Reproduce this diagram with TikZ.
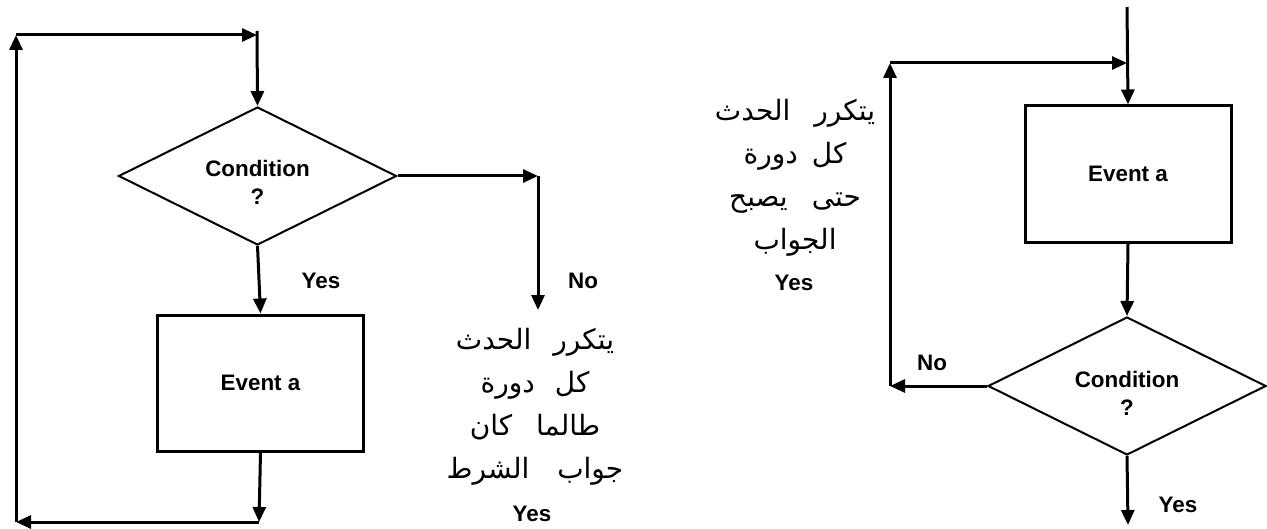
\documentclass[tikz,border=0pt]{standalone}
\usepackage{fontspec}
\setmainfont{Liberation Sans}
\newfontfamily\arabicfont[Script=Arabic]{DejaVu Sans}
\TeXXeTstate=1
\usetikzlibrary{shapes.geometric}
\usetikzlibrary{arrows.meta}

\begin{document}
\begin{tikzpicture}[x=0.5pt,y=-0.5pt,
  flow/.style={line width=1.5pt,-{Triangle[length=7.5pt,width=6.5pt]}},
  eventbox/.style={draw,line width=1.5pt,minimum width=103pt,minimum height=68pt,font=\bfseries\fontsize{11.2}{13}\selectfont},
  test/.style={draw,diamond,aspect=2,line width=1pt,inner sep=0pt,minimum width=139pt,minimum height=69pt,align=center,font=\bfseries\fontsize{11.2}{14}\selectfont},
  answer/.style={font=\bfseries\fontsize{11.2}{13}\selectfont},
  note/.style={align=center,font=\arabicfont\fontsize{14}{21.5}\selectfont}]
\useasboundingbox (0,0) rectangle (1267,529);

% while loop
\node [test] (cond1) at (257.5,176) {\rule{0pt}{15pt}Condition\\?};
\node [eventbox] (event1) at (260.5,383) {Event a};
\coordinate (in1) at (257,31);
\coordinate (tl1) at (16,35);
\coordinate (tr1) at (257,35);
\coordinate (br1) at (259,522);
\coordinate (bl1) at (16,522);
\coordinate (no1) at (538,176);
\coordinate (noend1) at (538,310);
\draw [flow] (in1) -- (cond1.north);
\draw [flow] (cond1.south) -- (event1.north);
\draw [flow] (event1.south) -- (br1);
\draw [flow] (br1) -- (bl1);
\draw [flow] (bl1) -- (tl1);
\draw [flow] (tl1) -- (tr1);
\draw [flow] (cond1.east) -- (no1);
\draw [flow] (no1) -- (noend1);
\node [answer] (yes1) at (321,281) {Yes};
\node [answer] (no1lab) at (583,281) {No};
\node [note] (note1) at (535,407) {\beginR يتكرر\hspace{11pt}الحدث\endR\\
  \beginR كل\hspace{10pt}دورة\endR\hspace*{11pt}\\
  \beginR طالما\hspace{12pt}كان\endR\\
  \beginR جواب\hspace{14pt}الشرط\endR};
\node [answer] (yes1b) at (532,514) {Yes};

% do-while loop
\node [eventbox] (event2) at (1128,174) {Event a};
\node [test] (cond2) at (1127,386) {\rule{0pt}{15pt}Condition\\?};
\coordinate (in2) at (1127,7);
\coordinate (tr2) at (1127,63);
\coordinate (tl2) at (890,63);
\coordinate (bl2) at (890,386);
\coordinate (out2) at (1128,525);
\draw [flow] (in2) -- (event2.north);
\draw [flow] (tl2) -- (tr2);
\draw [flow] (bl2) -- (tl2);
\draw [flow] (cond2.west) -- (bl2);
\draw [flow] (event2.south) -- (cond2.north);
\draw [flow] (cond2.south) -- (out2);
\node [answer] (no2lab) at (932,363) {No};
\node [answer] (yes2) at (1178,505) {Yes};
\node [note] (note2) at (795,178) {\beginR يتكرر\hspace{12pt}الحدث\endR\\
  \beginR كل\hspace{7pt}دورة\endR\\
  \beginR حتى\hspace{12pt}يصبح\endR\\
  \beginR الجواب\endR};
\node [answer] (yes2b) at (794,283) {Yes};

\end{tikzpicture}
\end{document}
